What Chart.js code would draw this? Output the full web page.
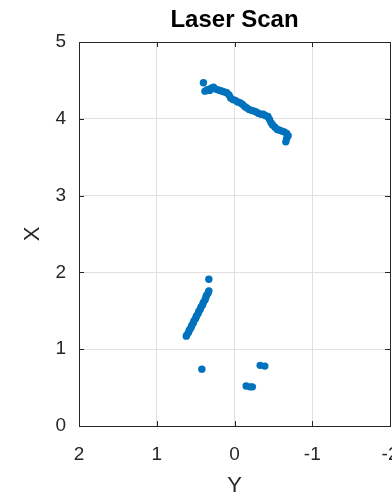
<!DOCTYPE html>
<html>
<head>
<meta charset="utf-8">
<script src="https://cdn.jsdelivr.net/npm/chart.js@4"></script>
<style>
  html, body { margin: 0; padding: 0; background: #fff; overflow: hidden; }
  #wrap { width: 420px; height: 499px; }
</style>
</head>
<body>
<div id="wrap"><canvas id="chart" width="420" height="499"></canvas></div>
<script>
// laser scan returns (Y horizontal, reversed; X vertical)
const scanY = [
    0.40,
    0.38, 0.35, 0.32, 0.30, 0.27, 0.25, 0.22, 0.19, 0.16, 0.13, 0.10,
    0.07, 0.05, 0.02, -0.01, -0.04, -0.07, -0.10, -0.13, -0.16, -0.19,
    -0.22, -0.25, -0.28, -0.31, -0.34, -0.37, -0.40, -0.43, -0.45, -0.47,
    -0.49, -0.52, -0.55, -0.58, -0.61, -0.64, -0.67, -0.69, -0.67, -0.66,
    0.33,
    0.33, 0.34, 0.36, 0.37, 0.38, 0.40, 0.41, 0.43, 0.44, 0.46, 0.47,
    0.49, 0.50, 0.52, 0.53, 0.55, 0.56, 0.58, 0.59, 0.61, 0.62,
    0.42,
    -0.33, -0.39,
    -0.15, -0.20, -0.23,
];
const scanX = [
    4.47,
    4.36, 4.38, 4.37, 4.40, 4.41, 4.39, 4.38, 4.37, 4.36, 4.35, 4.34,
    4.31, 4.27, 4.25, 4.24, 4.22, 4.21, 4.19, 4.16, 4.14, 4.12,
    4.11, 4.10, 4.09, 4.07, 4.06, 4.06, 4.04, 4.03, 3.99, 3.95,
    3.92, 3.89, 3.86, 3.85, 3.84, 3.83, 3.81, 3.78, 3.74, 3.70,
    1.91,
    1.76, 1.73, 1.70, 1.67, 1.64, 1.61, 1.58, 1.55, 1.52, 1.49, 1.46,
    1.43, 1.40, 1.37, 1.34, 1.31, 1.28, 1.25, 1.22, 1.19, 1.17,
    0.74,
    0.79, 0.78,
    0.52, 0.51, 0.51,
];
const yTicks = [2, 1, 0, -1, -2];
const xTicks = [0, 1, 2, 3, 4, 5];

const ink = '#262626';
const font = 'Liberation Sans, Helvetica, Arial, sans-serif';

// MATLAB style box with inward ticks
const boxTicks = {
    id: 'boxTicks',
    afterDraw(chart) {
        const { ctx, chartArea: a, scales } = chart;
        ctx.save();
        ctx.strokeStyle = ink;
        ctx.lineWidth = 1;
        ctx.beginPath();
        ctx.moveTo(a.left, a.top + 0.5);
        ctx.lineTo(a.right + 0.5, a.top + 0.5);
        ctx.lineTo(a.right + 0.5, a.bottom);
        yTicks.forEach(v => {
            const px = Math.round(scales.x.getPixelForValue(v)) + 0.5;
            ctx.moveTo(px, a.bottom); ctx.lineTo(px, a.bottom - 5);
            ctx.moveTo(px, a.top); ctx.lineTo(px, a.top + 5);
        });
        xTicks.forEach(v => {
            const py = Math.round(scales.y.getPixelForValue(v)) + 0.5;
            ctx.moveTo(a.left, py); ctx.lineTo(a.left + 5, py);
            ctx.moveTo(a.right, py); ctx.lineTo(a.right - 5, py);
        });
        ctx.stroke();
        ctx.restore();
    }
};

new Chart(document.getElementById('chart'), {
    type: 'scatter',
    data: {
        datasets: [{
            data: scanY.map((y, i) => ({ x: y, y: scanX[i] })),
            backgroundColor: '#0072BD',
            borderWidth: 0,
            pointRadius: 3.7,
        }],
    },
    options: {
        responsive: false,
        animation: false,
        layout: { padding: { left: 0, right: 30, top: 0, bottom: 0 } },
        plugins: {
            legend: { display: false },
            tooltip: { enabled: false },
            title: {
                display: true,
                fullSize: false,
                text: 'Laser Scan',
                color: '#000',
                font: { family: font, size: 24, weight: 'bold' },
                padding: { top: 6, bottom: 7.2 },
            },
        },
        scales: {
            x: {
                type: 'linear',
                reverse: true,
                min: -2, max: 2,
                afterBuildTicks: s => { s.ticks = yTicks.map(v => ({ value: v })); },
                afterFit: s => { s.height = 73; },
                grid: { color: '#e0e0e0', drawTicks: false },
                border: { color: ink, width: 1 },
                ticks: { color: ink, padding: 17, font: { family: font, size: 19 } },
                title: {
                    display: true, text: 'Y', color: ink,
                    font: { family: font, size: 22 },
                    padding: { top: 0, bottom: 0 },
                },
            },
            y: {
                type: 'linear',
                min: 0, max: 5,
                afterBuildTicks: s => { s.ticks = xTicks.map(v => ({ value: v })); },
                afterFit: s => { s.width = 79; },
                grid: { color: '#e0e0e0', drawTicks: false },
                border: { color: ink, width: 1 },
                ticks: { color: ink, padding: 13, font: { family: font, size: 19 } },
                title: {
                    display: true, text: 'X', color: ink,
                    font: { family: font, size: 22 },
                    padding: { top: 20, bottom: 0 },
                },
            },
        },
    },
    plugins: [boxTicks],
});
</script>
</body>
</html>
